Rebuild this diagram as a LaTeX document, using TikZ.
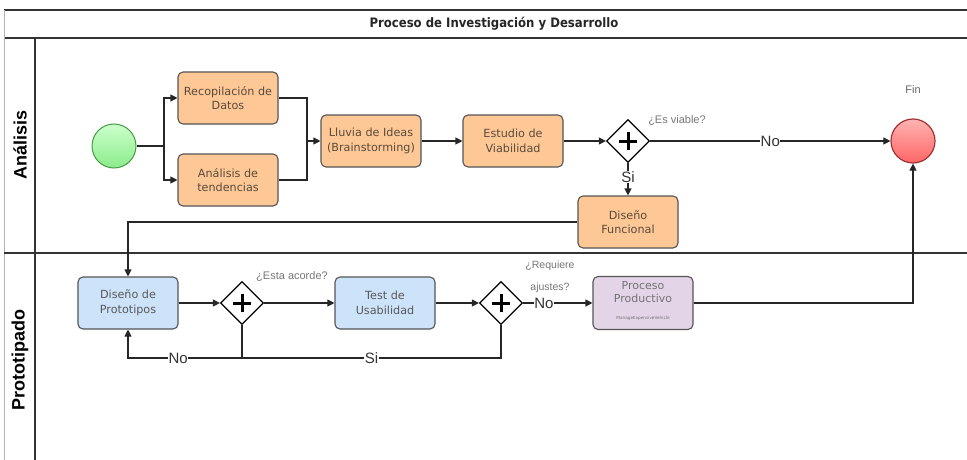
\documentclass[tikz,border=0pt]{standalone}
\usepackage{fontspec}
\setmainfont{Liberation Sans}
\newfontfamily\boxfont{DejaVu Sans}
\newfontfamily\titlefont{DejaVu Sans Condensed}
\usetikzlibrary{arrows.meta,shapes.geometric,calc}
\definecolor{frame}{HTML}{333333}
\definecolor{orangefill}{HTML}{FDC896}
\definecolor{bluefill}{HTML}{CCE3FA}
\definecolor{purplefill}{HTML}{E3D4E8}
\definecolor{boxline}{HTML}{555555}
\definecolor{boxtext}{HTML}{5A4A3A}
\definecolor{qtext}{HTML}{777777}
\tikzset{
  task/.style={draw=boxline, line width=1.1pt, rounded corners=5pt,
    minimum width=100pt, minimum height=52pt, align=center,
    font=\boxfont\fontsize{11.2}{14.5}\selectfont, text=boxtext},
  orangetask/.style={task, fill=orangefill},
  bluetask/.style={task, fill=bluefill, text=black!65},
  purpletask/.style={task, fill=purplefill, text=black!60},
  gateway/.style={draw=black, line width=1.2pt, diamond, fill=white,
    minimum width=43pt, minimum height=43pt, inner sep=0pt},
  flow/.style={draw=black!85, line width=1.1pt, -{Triangle[length=7pt,width=7pt]}},
  plain/.style={draw=black!85, line width=1.1pt},
  lbl/.style={font=\fontsize{15}{16}\selectfont, text=black!80, fill=white, inner sep=0.5pt},
  qlbl/.style={font=\fontsize{11}{13}\selectfont, text=qtext},
  lane/.style={font=\bfseries\fontsize{18}{19}\selectfont, rotate=90},
}
\newcommand{\plusmark}[1]{%
  \draw[line width=3pt] ($(#1)+(-9pt,0)$) -- ($(#1)+(9pt,0)$)
                        ($(#1)+(0,-9pt)$) -- ($(#1)+(0,9pt)$);}
\begin{document}
\begin{tikzpicture}[x=1pt,y=-1pt]
\useasboundingbox (0,0) rectangle (967,460);
\fill[white] (0,0) rectangle (967,460);

% pool and lanes
\draw[frame, line width=1.6pt] (4,10) -- (967,10);
\draw[frame, line width=1.6pt] (4,38) -- (967,38);
\draw[black!30, line width=0.6pt] (4,10) -- (4,460);
\draw[frame, line width=1.3pt] (35,38) -- (35,460);
\draw[frame, line width=1.3pt] (4,253) -- (967,253);
\node[font=\titlefont\bfseries\fontsize{13}{15}\selectfont, text=black!85] (title) at (494,24) {Proceso de Investigación y Desarrollo};
\node[lane] (laneA) at (20,145) {Análisis};
\node[lane] (laneP) at (20,360) {Prototipado};

% events
\node[circle, draw=black!25!green!45!gray, line width=1pt, minimum size=44pt,
  inner sep=0pt, top color=green!20!white, bottom color=green!45!white!85!gray] (start) at (114,146) {};
\node[circle, draw=red!55!black!80, line width=1.2pt, minimum size=44pt,
  inner sep=0pt, top color=red!30!white, bottom color=red!60!white] (fin) at (913,141) {};
\node[qlbl, text=black!60] (finlbl) at (913,90) {Fin};

% tasks
\node[orangetask] (reco) at (228,98) {Recopilación de\\Datos};
\node[orangetask] (tend) at (228,180) {Análisis de\\tendencias};
\node[orangetask] (lluvia) at (371,141) {Lluvia de Ideas\\(Brainstorming)};
\node[orangetask] (estudio) at (513,141) {Estudio de\\Viabilidad};
\node[orangetask] (funcional) at (628,222) {Diseño\\Funcional};
\node[bluetask] (proto) at (128,303) {Diseño de\\Prototipos};
\node[bluetask] (test) at (385,303) {Test de\\Usabilidad};
\node[purpletask, minimum height=53pt] (prod) at (643,303) {};
\node[font=\boxfont\fontsize{11}{13.5}\selectfont, text=black!55, align=center] (prodtxt) at (643,292) {Proceso\\Productivo};
\node[font=\boxfont\fontsize{4.2}{5}\selectfont, text=black!55] (prodsub) at (643,318) {ManageExpensiveVehicle};

% gateways
\node[gateway] (g1) at (628,141) {};
\node[gateway] (g2) at (242,303) {};
\node[gateway] (g3) at (501,303) {};
\plusmark{g1}
\plusmark{g2}
\plusmark{g3}

% junction points
\coordinate (split) at (164,146);
\coordinate (merge) at (307,141);
\coordinate (loopA) at (242,358);
\coordinate (loopB) at (501,358);

% flows in Analisis lane
\draw[plain] (start.east) -- (split);
\draw[flow] (split) |- (reco.west);
\draw[flow] (split) |- (tend.west);
\draw[plain] (reco.east) -| (merge);
\draw[plain] (tend.east) -| (merge);
\draw[flow] (merge) -- (lluvia.west);
\draw[flow] (lluvia.east) -- (estudio.west);
\draw[flow] (estudio.east) -- (g1.west);
\draw[flow] (g1.east) -- node[lbl] (nolbl1) {No} (fin.west);
\draw[flow] (g1.south) -- node[lbl, pos=0.42] (silbl1) {Si} (funcional.north);
\draw[flow] (funcional.west) -| (proto.north);
\node[qlbl] (qviable) at (677,120) {¿Es viable?};

% flows in Prototipado lane
\draw[flow] (proto.east) -- (g2.west);
\draw[flow] (g2.east) -- (test.west);
\draw[flow] (test.east) -- (g3.west);
\draw[flow] (g3.east) -- node[lbl, pos=0.3] (nolbl3) {No} (prod.west);
\draw[flow] (prod.east) -| (fin.south);
\draw[plain] (g3.south) -- (loopB) -- node[lbl] (silbl) {Si} (loopA);
\draw[flow] (g2.south) -- (loopA) -| node[lbl, pos=0.28] (nolbl2) {No} (proto.south);
\node[qlbl] (qacorde) at (292,276) {¿Esta acorde?};
\node[qlbl, align=center, font=\fontsize{10.5}{22}\selectfont] (qajuste) at (550,277) {¿Requiere\\ajustes?};
\end{tikzpicture}
\end{document}
